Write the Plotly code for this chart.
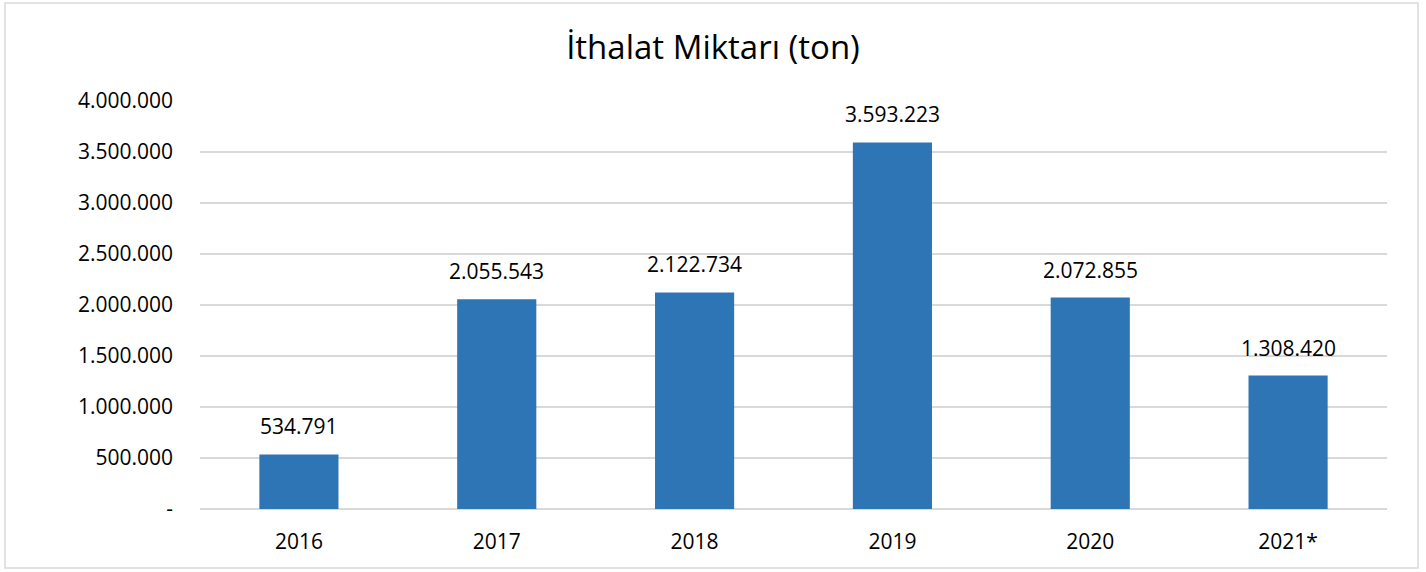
import plotly.graph_objects as go

years = ["2016", "2017", "2018", "2019", "2020", "2021*"]
values = [534791, 2055543, 2122734, 3593223, 2072855, 1308420]
value_labels = ["534.791", "2.055.543", "2.122.734", "3.593.223", "2.072.855", "1.308.420"]
tick_vals = [0, 500000, 1000000, 1500000, 2000000, 2500000, 3000000, 3500000, 4000000]
tick_text = ["-", "500.000", "1.000.000", "1.500.000", "2.000.000", "2.500.000",
             "3.000.000", "3.500.000", "4.000.000"]

W, H = 1426, 572
ml, mr, mt, mb = 200, 39, 101, 63
pw, ph = W - ml - mr, H - mt - mb
FONT = "Open Sans"

fig = go.Figure(go.Bar(
    x=years, y=values,
    marker=dict(color="#2E75B6", line=dict(width=0)),
    hoverinfo="x+y",
))

for i, (v, lab) in enumerate(zip(values, value_labels)):
    fig.add_annotation(x=i, y=v, text=lab, showarrow=False, yanchor="bottom",
                       yshift=12, font=dict(family=FONT, size=21, color="black"))

def px_x(p):
    return (p - ml) / pw

def px_y(p):
    return (H - mb - p) / ph

fig.update_layout(
    width=W, height=H,
    margin=dict(l=ml, r=mr, t=mt, b=mb),
    paper_bgcolor="white", plot_bgcolor="white",
    font=dict(family=FONT, size=21, color="black"),
    title=dict(text="İthalat Miktarı (ton)", x=0.5, xanchor="center",
               y=1 - 47 / H, yanchor="middle", font=dict(family=FONT, size=33, color="black")),
    bargap=0.6,
    showlegend=False,
    xaxis=dict(type="category", range=[-0.5, len(years) - 0.5], showgrid=False,
               showline=False, ticks="", tickfont=dict(size=21), ticklabelstandoff=18),
    yaxis=dict(range=[0, 4000000], tickvals=tick_vals, ticktext=tick_text,
               showgrid=True, gridcolor="#d9d9d9", gridwidth=1.5,
               zeroline=True, zerolinecolor="#d9d9d9", zerolinewidth=1.5,
               showline=False, ticks="", ticklabelstandoff=26, tickfont=dict(size=21)),
    shapes=[dict(type="rect", xref="paper", yref="paper",
                 x0=px_x(5), x1=px_x(1418), y0=px_y(568), y1=px_y(3),
                 line=dict(color="#d9d9d9", width=1.5), layer="below")],
)

fig.write_html("out.html", config={"displayModeBar": False},
               post_script="document.body.style.margin='0';document.body.style.overflow='hidden';")
